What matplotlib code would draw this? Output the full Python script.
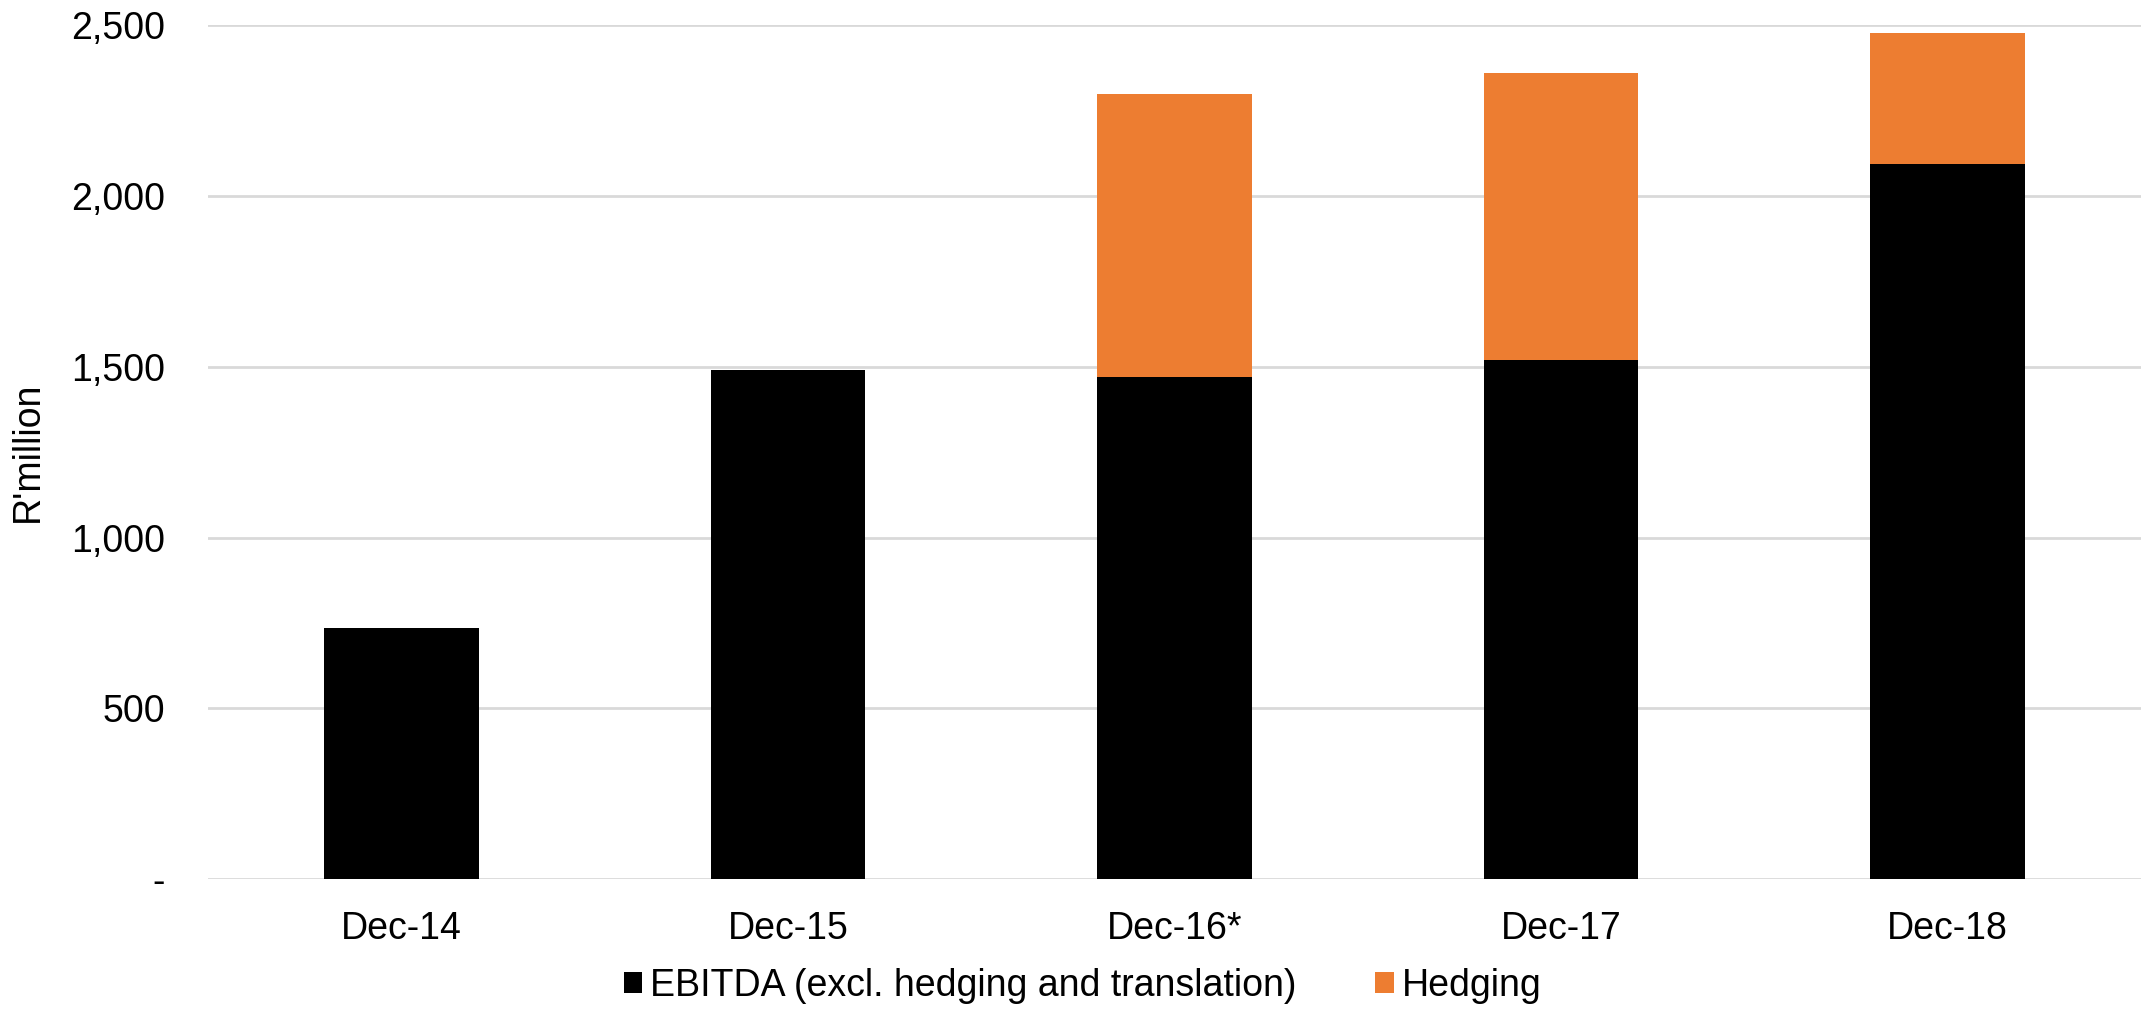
import numpy as np
import matplotlib.pyplot as plt
from matplotlib.ticker import FuncFormatter

plt.rcParams['font.family'] = ['Liberation Sans', 'DejaVu Sans']

periods = ['Dec-14', 'Dec-15', 'Dec-16*', 'Dec-17', 'Dec-18']
ebitda = [735, 1490, 1470, 1519, 2094]
hedging = [0, 0, 830, 841, 384]

fig = plt.figure(figsize=(21.52, 10.14), dpi=100)
ax = fig.add_axes([0.0967, 0.133, 0.898, 0.842])

x = np.arange(len(periods))
ax.bar(x, ebitda, width=0.4, color='#000000', label='EBITDA (excl. hedging and translation)', zorder=3)
ax.bar(x, hedging, width=0.4, bottom=ebitda, color='#ED7D31', label='Hedging', zorder=3)

ax.set_xlim(-0.5, len(periods) - 0.5)
ax.set_ylim(0, 2500)
ax.set_yticks(np.arange(0, 2501, 500))
ax.yaxis.set_major_formatter(FuncFormatter(lambda v, p: '-' if v == 0 else f'{int(v):,}'))
ax.set_xticks(x)
ax.set_xticklabels(periods)
ax.tick_params(axis='both', length=0, labelsize=27)
ax.tick_params(axis='y', pad=31)
ax.tick_params(axis='x', pad=23)
ax.grid(axis='y', color='#d9d9d9', linewidth=2, zorder=0)
for s in ax.spines.values():
    s.set_visible(False)

ax.set_ylabel("R'million", fontsize=27, labelpad=18)

fig.legend(loc='center', bbox_to_anchor=(0.503, 0.028), ncol=2, frameon=False,
           fontsize=27, handlelength=0.5, handleheight=0.5, handletextpad=0.2,
           columnspacing=2.1, borderaxespad=0)

fig.savefig('out.png', dpi=100)
